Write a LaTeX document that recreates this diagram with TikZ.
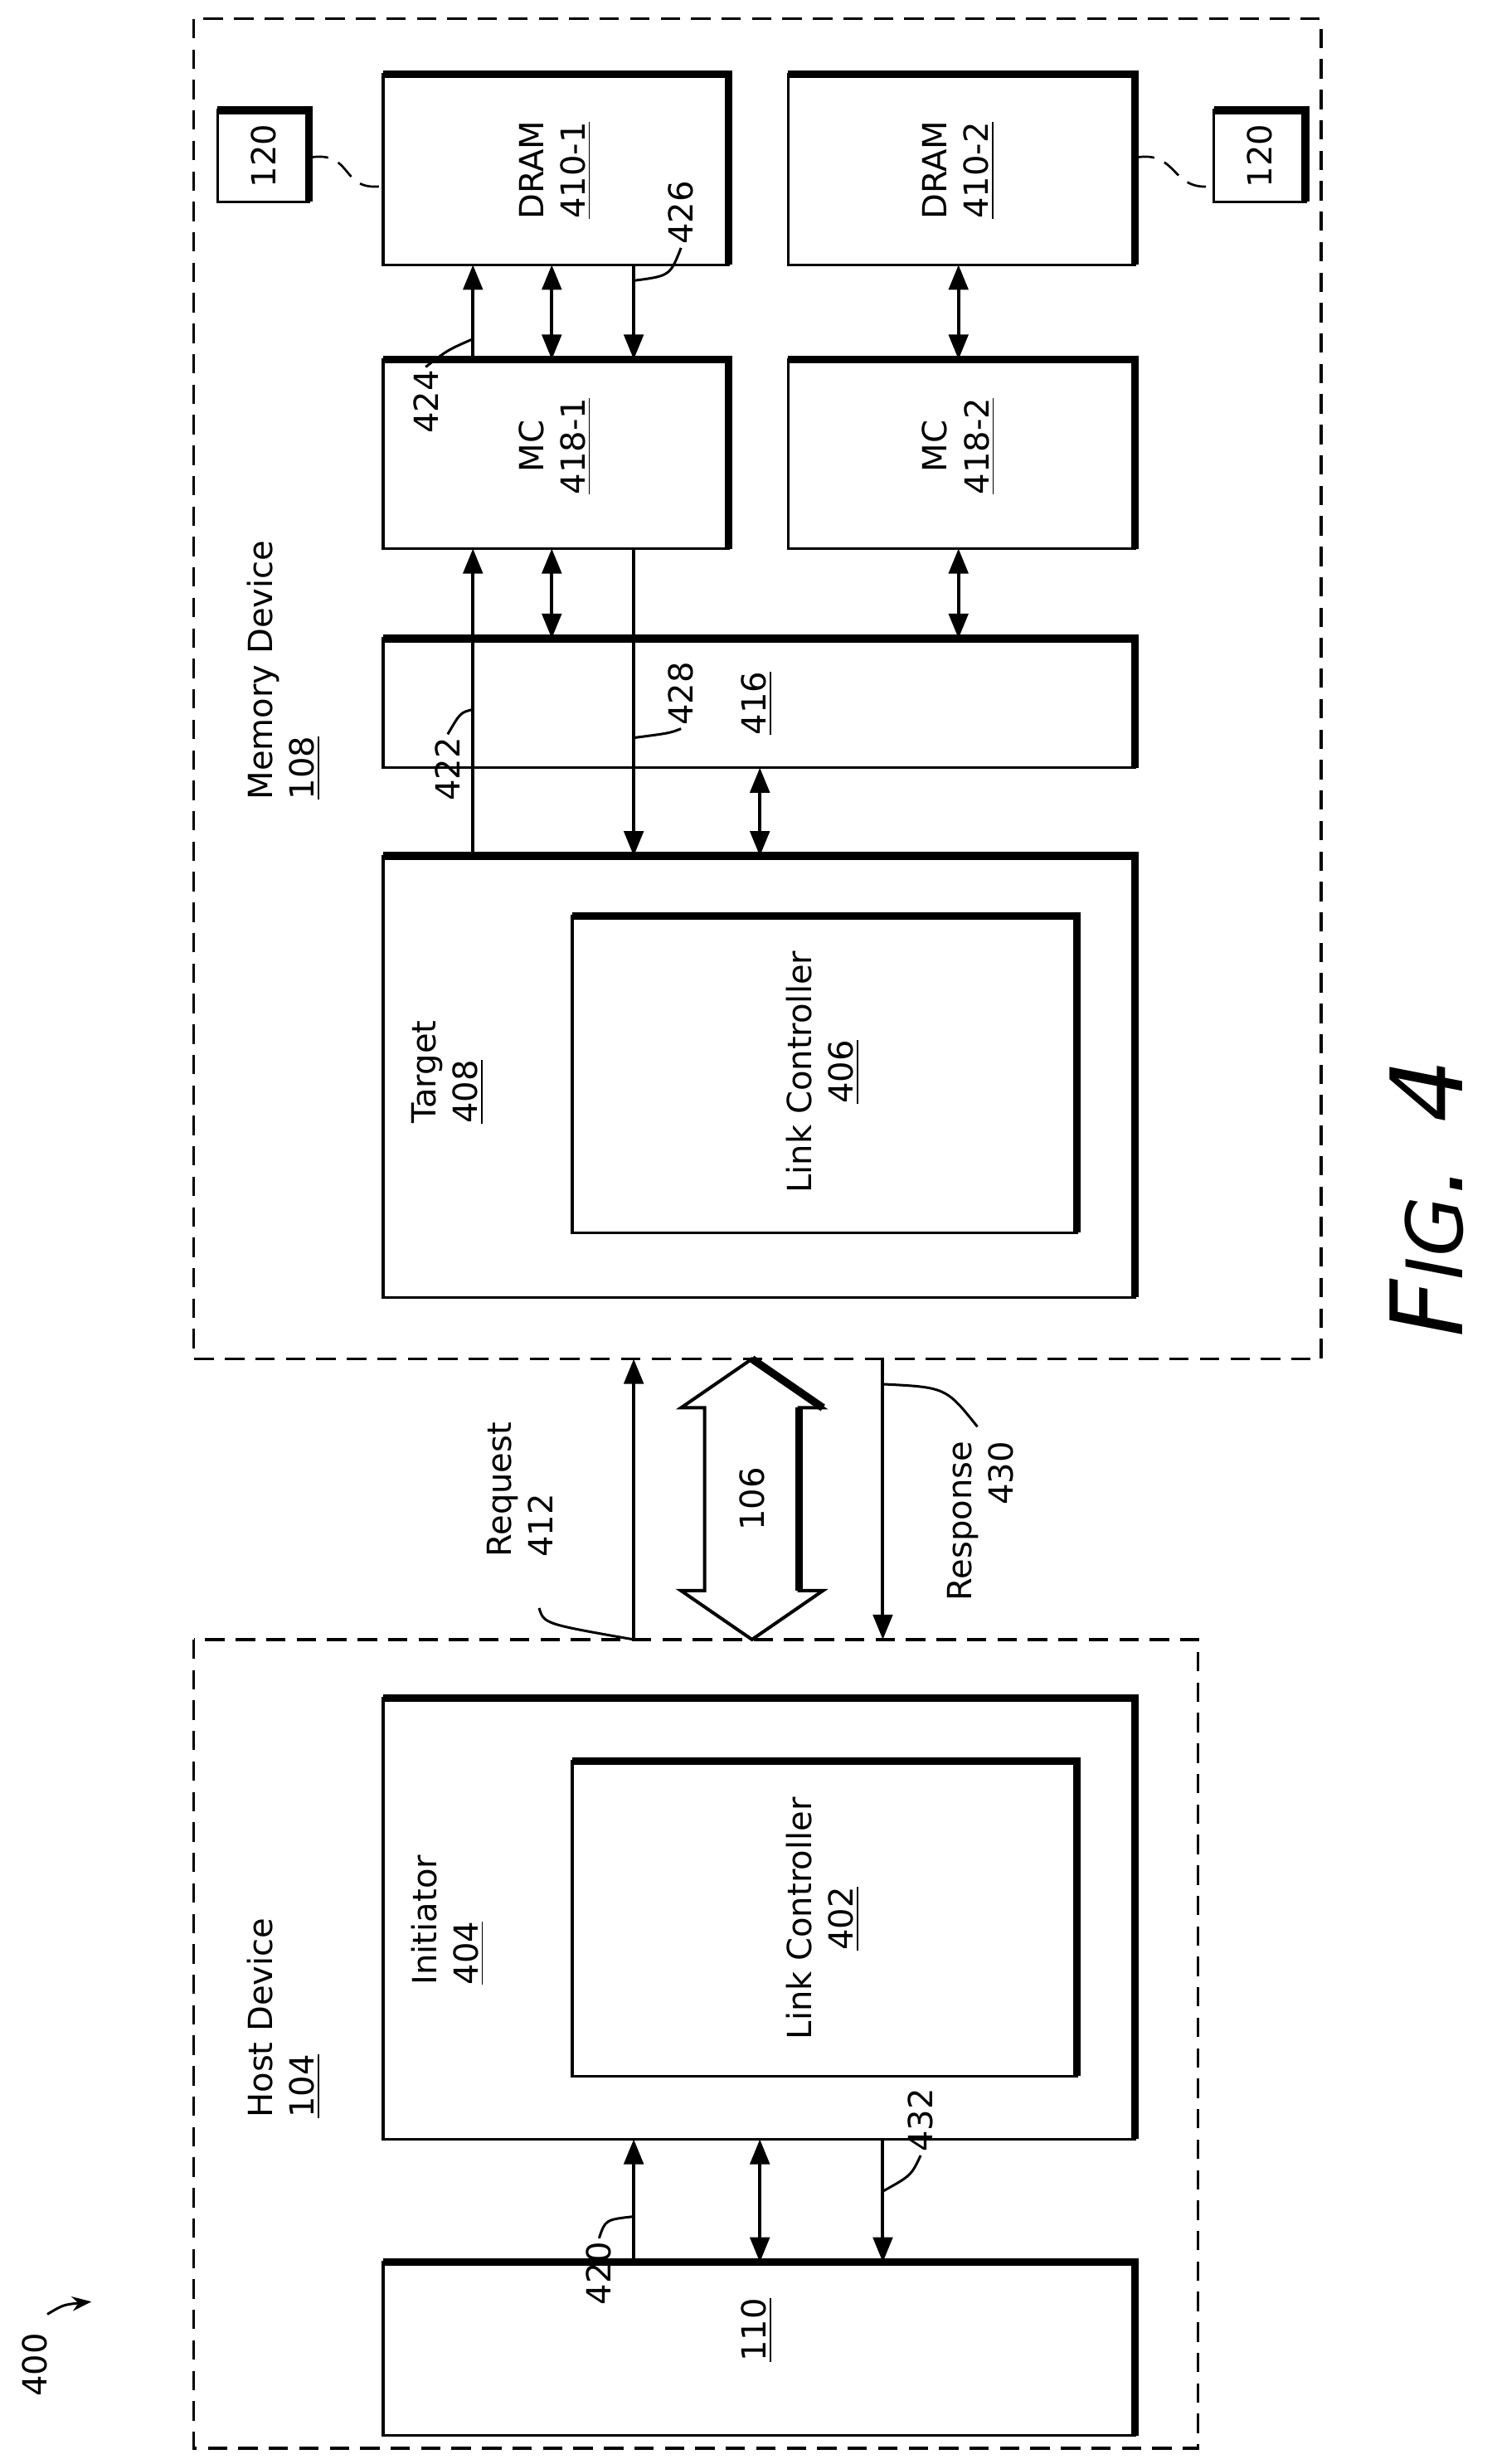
\documentclass[tikz,border=0pt]{standalone}
\usepackage{fontspec}
\setmainfont{DejaVu Sans}
\usetikzlibrary{arrows.meta}

\tikzset{
  box/.style={draw, line width=1pt, inner sep=0pt, outer sep=0pt},
  edge/.style={line width=2.8pt},
  lbl/.style={rotate=90, font=\fontsize{12}{15}\selectfont, inner sep=1pt},
  arr/.style={line width=1.2pt, -{Triangle[length=9pt,width=7pt]}},
  darr/.style={line width=1.2pt, {Triangle[length=9pt,width=7pt]}-{Triangle[length=9pt,width=7pt]}},
  lead/.style={line width=0.9pt},
  frame/.style={line width=1pt, dash pattern=on 7pt off 4pt}
}
% box with heavy top and right edges
\newcommand\bx[5]{%
  \node[box, minimum width={(#4-#2)*0.02cm}, minimum height={(#5-#3)*0.02cm}]
    (#1) at ({(#2+#4)/2},{-(#3+#5)/2}) {};
  \draw[edge] (#1.north west) -- (#1.north east) -- (#1.south east);}

\begin{document}
\begin{tikzpicture}[x=0.02cm, y=0.02cm]
  \useasboundingbox (0,0) rectangle (946,-1563);

  % device frames
  \draw[frame] (123,-12) rectangle (838,-862);
  \draw[frame] (123,-1040) rectangle (760,-1553);
  \node[lbl, align=left] (memdev) at (180,-425) {Memory Device\\\underline{108}};
  \node[lbl, align=left] (hostdev) at (180,-1280) {Host Device\\\underline{104}};

  % memory device
  \bx{dram1}{243}{47}{462}{168}
  \bx{dram2}{500}{47}{720}{168}
  \bx{mc1}{243}{228}{462}{348}
  \bx{mc2}{500}{228}{720}{348}
  \bx{bus416}{243}{405}{720}{487}
  \bx{target}{243}{543}{720}{823}
  \bx{lc406}{363}{581}{683}{782}
  \bx{ca}{138}{70}{196}{128}
  \bx{cb}{770}{70}{828}{128}

  \node[lbl, align=center] at (352,-108) {DRAM\\\underline{410-1}};
  \node[lbl, align=center] at (608,-108) {DRAM\\\underline{410-2}};
  \node[lbl, align=center] at (352,-283) {MC\\\underline{418-1}};
  \node[lbl, align=center] at (608,-283) {MC\\\underline{418-2}};
  \node[lbl] at (480,-446) {\underline{416}};
  \node[lbl, align=left] at (284,-680) {Target\\\underline{408}};
  \node[lbl, align=center] at (522,-680) {Link Controller\\\underline{406}};
  \node[lbl] at (ca) {120};
  \node[lbl] at (cb) {120};

  \draw[frame, line width=0.8pt] (ca.east |- 0,-100) .. controls (225,-95) and (215,-122) .. (dram1.west |- 0,-118);
  \draw[frame, line width=0.8pt] (dram2.east |- 0,-100) .. controls (748,-95) and (742,-122) .. (cb.west |- 0,-118);

  \draw[arr] (mc1.north -| 300,0) -- (dram1.south -| 300,0);
  \draw[darr] (mc1.north -| 350,0) -- (dram1.south -| 350,0);
  \draw[arr] (dram1.south -| 402,0) -- (mc1.north -| 402,0);
  \draw[darr] (mc2.north -| 608,0) -- (dram2.south -| 608,0);
  \draw[darr] (bus416.north -| 350,0) -- (mc1.south -| 350,0);
  \draw[darr] (bus416.north -| 608,0) -- (mc2.south -| 608,0);
  \draw[arr] (target.north -| 300,0) -- (mc1.south -| 300,0);
  \draw[arr] (mc1.south -| 402,0) -- (target.north -| 402,0);
  \draw[darr] (target.north -| 482,0) -- (bus416.south -| 482,0);

  \node[lbl] (n424) at (270,-255) {424};
  \draw[lead] (n424.east) .. controls (284,-222) .. (300,-215);
  \node[lbl] (n426) at (432,-135) {426};
  \draw[lead] (n426.west) .. controls (425,-175) .. (402,-178);
  \node[lbl] (n422) at (284,-488) {422};
  \draw[lead] (n422.east) .. controls (292,-452) .. (300,-450);
  \node[lbl] (n428) at (432,-440) {428};
  \draw[lead] (n428.west) .. controls (425,-465) .. (402,-468);

  % host device
  \bx{init}{243}{1077}{720}{1357}
  \bx{lc402}{363}{1117}{683}{1317}
  \bx{bus110}{243}{1435}{720}{1545}
  \node[lbl, align=left] at (284,-1218) {Initiator\\\underline{404}};
  \node[lbl, align=center] at (522,-1217) {Link Controller\\\underline{402}};
  \node[lbl] at (480,-1478) {\underline{110}};

  \draw[arr] (bus110.north -| 402,0) -- (init.south -| 402,0);
  \draw[darr] (bus110.north -| 482,0) -- (init.south -| 482,0);
  \draw[arr] (init.south -| 560,0) -- (bus110.north -| 560,0);

  \node[lbl] (n420) at (380,-1442) {420};
  \draw[lead] (n420.east) .. controls (384,-1408) .. (402,-1406);
  \node[lbl] (n432) at (584,-1345) {432};
  \draw[lead] (n432.west) .. controls (578,-1380) .. (560,-1390);

  % link between devices
  \coordinate (reqa) at (402,-1040);
  \coordinate (reqb) at (402,-862);
  \coordinate (resa) at (560,-862);
  \coordinate (resb) at (560,-1040);
  \draw[arr] (reqa) -- (reqb);
  \draw[arr] (resa) -- (resb);
  \draw[line width=1.2pt] (477,-862) -- (522,-893) -- (507,-893) -- (507,-1009)
    -- (522,-1009) -- (477,-1040) -- (432,-1009) -- (447,-1009) -- (447,-893)
    -- (432,-893) -- cycle;
  \draw[edge] (477,-862) -- (522,-893);
  \draw[edge] (507,-893) -- (507,-1009);
  \node[lbl] at (477,-951) {106};

  \node[lbl, align=left] (req) at (330,-945) {Request\\412};
  \draw[lead] (342,-1020) .. controls (345,-1030) .. (reqa);
  \node[lbl, align=right] (res) at (622,-965) {Response\\430};
  \draw[lead] (resa |- 0,-878) .. controls (600,-880) .. (620,-905);

  \node[lbl] (n400) at (22,-1500) {400};
  \draw[lead, -{Stealth[length=7pt]}] (30,-1468) .. controls (40,-1462) .. (58,-1460);

  \node[rotate=90, font=\fontsize{36}{40}\selectfont\itshape] at (905,-760) {F\scalebox{0.78}{IG}. 4};
\end{tikzpicture}
\end{document}
